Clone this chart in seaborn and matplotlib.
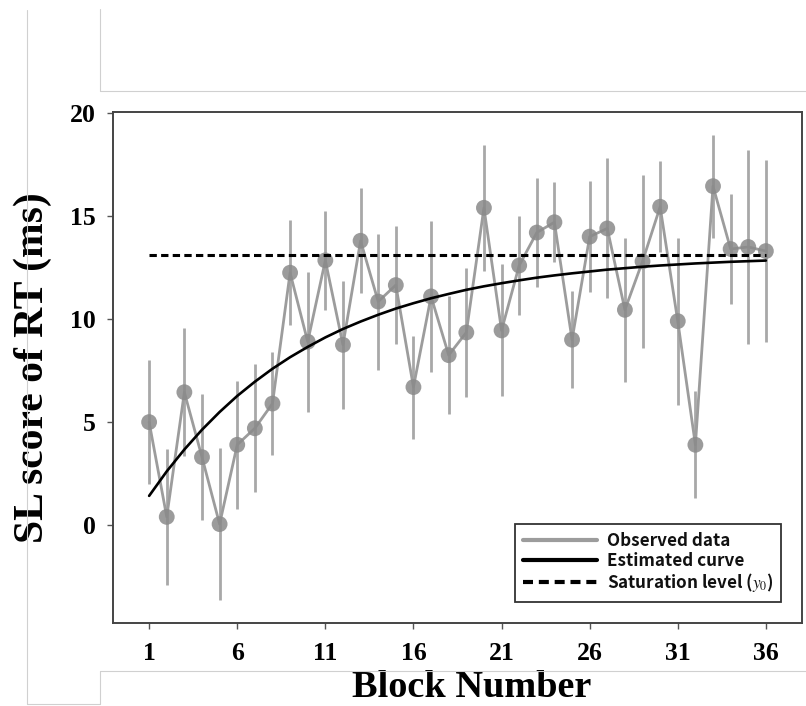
import numpy as np
import pandas as pd
import matplotlib
matplotlib.use("Agg")
import matplotlib.pyplot as plt
from matplotlib.lines import Line2D
import seaborn as sns

# ---- data ----
blocks = list(range(1, 37))
sl_score = [5.0, 0.4, 6.45, 3.3, 0.05, 3.9, 4.7, 5.9, 12.25, 8.9,
            12.85, 8.75, 13.8, 10.85, 11.65, 6.7, 11.1, 8.25, 9.35, 15.4,
            9.45, 12.6, 14.2, 14.7, 9.0, 14.0, 14.4, 10.45, 12.8, 15.45,
            9.9, 3.9, 16.45, 13.4, 13.5, 13.3]
sl_err = [3.0, 3.3, 3.1, 3.05, 3.7, 3.1, 3.1, 2.5, 2.55, 3.4,
          2.4, 3.1, 2.55, 3.3, 2.85, 2.5, 3.65, 2.85, 3.15, 3.05,
          3.2, 2.4, 2.65, 1.95, 2.35, 2.7, 3.4, 3.5, 4.2, 2.2,
          4.05, 2.6, 2.5, 2.65, 4.7, 4.4]
estimated = [1.42, 2.61, 3.67, 4.63, 5.49, 6.27, 6.96, 7.59, 8.15, 8.65,
             9.11, 9.52, 9.88, 10.21, 10.51, 10.77, 11.01, 11.22, 11.42, 11.59,
             11.74, 11.88, 12.01, 12.12, 12.22, 12.31, 12.40, 12.47, 12.54, 12.60,
             12.65, 12.70, 12.74, 12.78, 12.81, 12.84]
saturation = 13.12
x_ticks = [1, 6, 11, 16, 21, 26, 31, 36]
y_ticks = [0, 5, 10, 15, 20]

df = pd.DataFrame({"block": blocks, "score": sl_score, "err": sl_err,
                   "est": estimated})

sns.set_style("white")
plt.rcParams["mathtext.fontset"] = "stix"

fig = plt.figure(figsize=(8.06, 7.06), dpi=100)
ax = fig.add_axes([113 / 806, 83 / 706, 689 / 806, 511 / 706])

# screenshot frame lines
for (x0, y0, x1, y1) in [(27, 10, 27, 704), (100, 9, 100, 91), (100, 91, 806, 91),
                         (100, 671, 806, 671), (100, 671, 100, 704), (27, 704, 100, 704)]:
    fig.add_artist(Line2D([x0 / 806, x1 / 806], [1 - y0 / 706, 1 - y1 / 706],
                          transform=fig.transFigure, color="#d0d0d0", lw=0.8))

gray = "#9c9c9c"
ax.errorbar(df["block"], df["score"], yerr=df["err"], fmt="none",
            ecolor="#a8a8a8", elinewidth=2.0, capsize=0, zorder=1)
sns.lineplot(data=df, x="block", y="score", ax=ax, color=gray, lw=2.0,
             zorder=2, label="Observed data")
sns.scatterplot(data=df, x="block", y="score", ax=ax, color="#8a8a8a", s=130,
                alpha=0.85, edgecolor="none", zorder=3, legend=False)
sns.lineplot(data=df, x="block", y="est", ax=ax, color="black", lw=1.9,
             zorder=4, label="Estimated curve")
ax.plot([blocks[0], blocks[-1]], [saturation, saturation], color="black",
        lw=2.2, ls=(0, (2.4, 1.4)), zorder=5, label="Saturation level ($y_0$)")

ax.set_xlim(-1.05, 38.05)
ax.set_ylim(-4.75, 20.05)
ax.set_xticks(x_ticks)
ax.set_yticks(y_ticks)
ax.set_xticklabels([str(t) for t in x_ticks])
ax.set_yticklabels([str(t) for t in y_ticks])

for lab in ax.get_xticklabels() + ax.get_yticklabels():
    lab.set_family("Liberation Serif")
    lab.set_weight("bold")
    lab.set_size(18.5)
    lab.set_color("black")

ax.tick_params(axis="both", direction="out", length=4.5, width=1.0,
               color="#555555", left=True, bottom=True)
ax.tick_params(axis="y", pad=8)
ax.tick_params(axis="x", pad=9)
for s in ax.spines.values():
    s.set_color("#444444")
    s.set_linewidth(1.4)
    s.set_visible(True)

ax.set_xlabel("Block Number", family="Liberation Serif", weight="bold",
              size=27.5, labelpad=4, color="black")
ax.xaxis.label.set_x(0.5 + 14 / 689)
ax.set_ylabel("SL score of RT (ms)", family="Liberation Serif", weight="bold",
              size=30, labelpad=13, color="black")

leg = ax.legend(loc="lower right", bbox_to_anchor=(1 - 21 / 689, 21 / 511),
                borderaxespad=0, frameon=True, fancybox=False, handlelength=4.3,
                handletextpad=0.6, borderpad=0.45, labelspacing=0.1,
                prop={"family": "Noto Sans CJK KR", "weight": "bold", "size": 12.3})
leg.get_frame().set_edgecolor("black")
leg.get_frame().set_linewidth(1.3)
for t in leg.get_texts():
    t.set_color("#111111")
for h in leg.get_lines():
    h.set_linewidth(3.0)

fig.savefig("out.png", dpi=100, facecolor="white")
